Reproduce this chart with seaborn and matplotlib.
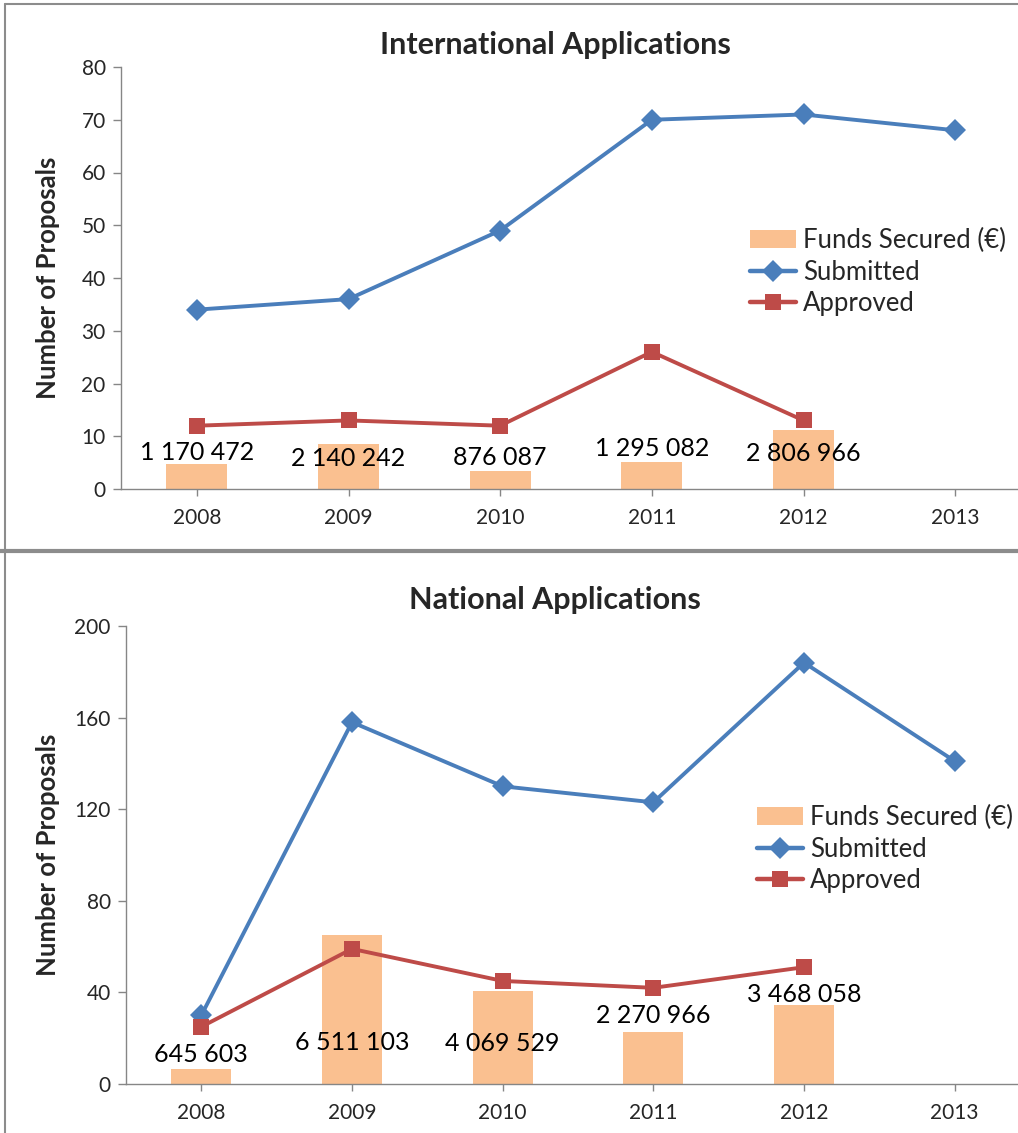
import numpy as np
import pandas as pd
import matplotlib
matplotlib.use("Agg")
import matplotlib.pyplot as plt
from matplotlib.patches import Patch
from matplotlib.lines import Line2D
import seaborn as sns

# ---------------- data ----------------
years = ["2008", "2009", "2010", "2011", "2012", "2013"]

intl_submitted = [34, 36, 49, 70, 71, 68]
intl_approved = [12, 13, 12, 26, 13, np.nan]
intl_funds = [1170472, 2140242, 876087, 1295082, 2806966, np.nan]

nat_submitted = [30, 158, 130, 123, 184, 141]
nat_approved = [25, 59, 45, 42, 51, np.nan]
nat_funds = [645603, 6511103, 4069529, 2270966, 3468058, np.nan]

# ---------------- style ----------------
sns.set_theme(style="white")
plt.rcParams["font.family"] = ["Lato", "DejaVu Sans"]

BLUE = "#4A7EBB"
RED = "#BE4B48"
BAR = "#FAC090"
AXC = "#868686"

W, H = 1018, 1133
fig = plt.figure(figsize=(W / 100, H / 100), dpi=100)


def fx(px):
    return px / W


def fy(py):
    return 1 - py / H


def panel(rect, title, title_y, submitted, approved, funds, ymax, ystep,
          fund_max, label_y, legend_xy):
    ax = fig.add_axes(rect)
    ax2 = ax.twinx()
    ax.set_zorder(ax2.get_zorder() + 1)
    ax.patch.set_visible(False)

    pos = np.arange(len(years))
    df = pd.DataFrame({"pos": pos, "year": years, "sub": submitted,
                       "app": approved, "funds": funds})

    # bars on hidden secondary axis
    dfb = df.dropna(subset=["funds"])
    ax2.bar(dfb["pos"], dfb["funds"], width=0.4, color=BAR, linewidth=0)
    ax2.set_ylim(0, fund_max)
    ax2.set_xlim(-0.5, len(years) - 0.5)
    ax2.axis("off")

    sns.lineplot(data=df, x="pos", y="sub", ax=ax, color=BLUE, lw=2.8,
                 marker="D", markersize=11, markeredgewidth=0, legend=False)
    sns.lineplot(data=df.dropna(subset=["app"]), x="pos", y="app", ax=ax,
                 color=RED, lw=2.8, marker="s", markersize=12,
                 markeredgewidth=0, legend=False)

    for p, v, ly in zip(dfb["pos"], dfb["funds"], label_y):
        ax.text(p, ly, f"{int(v):,}".replace(",", " "), ha="center",
                va="center", fontsize=18, color="black", zorder=5)

    ax.set_xlim(-0.5, len(years) - 0.5)
    ax.set_ylim(0, ymax)
    ax.set_yticks(np.arange(0, ymax + 1, ystep))
    ax.set_xticks(pos)
    ax.set_xticklabels(years)
    ax.set_xlabel("")
    ax.set_ylabel("")
    for s in ["top", "right"]:
        ax.spines[s].set_visible(False)
    for s in ["left", "bottom"]:
        ax.spines[s].set_color(AXC)
        ax.spines[s].set_linewidth(1.0)
    ax.tick_params(axis="y", length=6, width=1, color=AXC, labelsize=15,
                   pad=5, left=True)
    ax.tick_params(axis="x", length=5, width=1, color=AXC, labelsize=15,
                   pad=9, bottom=True)
    ax.grid(False)

    fig.text(fx(555), fy(title_y), title, ha="center", va="center",
             fontsize=22, fontweight="bold")
    fig.text(fx(48), rect[1] + rect[3] / 2, "Number of Proposals",
             rotation=90, ha="center", va="center", fontsize=18.5,
             fontweight="bold")

    handles = [Patch(facecolor=BAR, edgecolor="none"),
               Line2D([], [], color=BLUE, lw=3.2, marker="D", markersize=11,
                      markeredgewidth=0),
               Line2D([], [], color=RED, lw=3.2, marker="s", markersize=12,
                      markeredgewidth=0)]
    fig.legend(handles, ["Funds Secured (€)", "Submitted", "Approved"],
               loc="upper left", bbox_to_anchor=(fx(legend_xy[0]), fy(legend_xy[1])),
               frameon=False, fontsize=18.5, handlelength=1.8, handletextpad=0.25,
               labelspacing=0.25, borderpad=0, borderaxespad=0)
    return ax


# top panel: y0 at 489px, ymax at 67px, x from 121px
panel([fx(121), fy(489), fx(910), (489 - 67) / H],
      "International Applications", 45,
      intl_submitted, intl_approved, intl_funds, 80, 10, 20_000_000,
      [7.0, 5.8, 6.0, 7.7, 6.8], (750, 228))

panel([fx(126), fy(1084), fx(904), (1084 - 626) / H],
      "National Applications", 600,
      nat_submitted, nat_approved, nat_funds, 200, 40, 20_000_000,
      [12.7, 18.3, 17.9, 29.7, 38.9], (757, 805))

# panel frames
fig.add_artist(Line2D([fx(5), fx(5)], [fy(4), fy(550)], color="#8C8C8C", lw=1.5,
                      transform=fig.transFigure))
fig.add_artist(Line2D([fx(5), 1], [fy(4), fy(4)], color="#8C8C8C", lw=1.5,
                      transform=fig.transFigure))
fig.add_artist(Line2D([0, 1], [fy(551), fy(551)], color="#8C8C8C", lw=3,
                      transform=fig.transFigure))
fig.add_artist(Line2D([fx(5), fx(5)], [fy(553), 0], color="#8C8C8C", lw=1.5,
                      transform=fig.transFigure))

fig.savefig("out.png", dpi=100)
